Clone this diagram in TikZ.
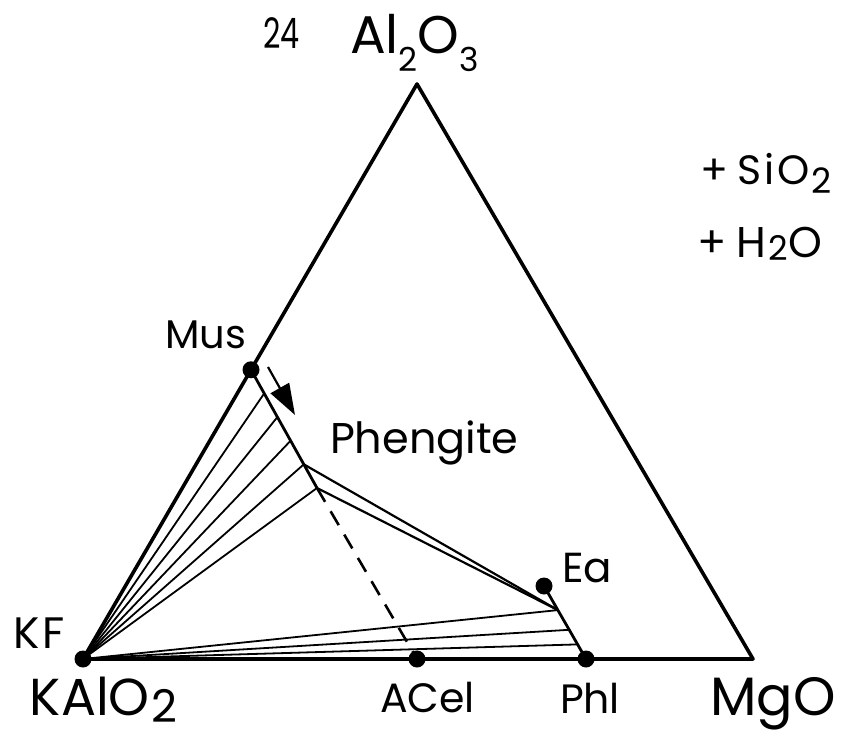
\documentclass[tikz,border=0pt]{standalone}
\usepackage{fontspec}
\setmainfont{Poppins}
\usetikzlibrary{calc,arrows.meta}
\newcommand\chemsub[3]{\raisebox{#1}{\fontsize{#2}{#2}\selectfont #3}}
\begin{document}
\begin{tikzpicture}[x=1pt,y=-1pt,
  lbl/.style={anchor=base west,inner sep=0pt,outer sep=0pt},
  dotn/.style={circle,fill=black,inner sep=0pt,minimum size=17pt},
  tri/.style={line width=3.6pt,line join=round},
  solid2/.style={line width=2.8pt},
  tie/.style={line width=1.8pt},
  dbl/.style={line width=2.2pt},
  dsh/.style={line width=2.6pt,dash pattern=on 16pt off 11pt},
  arr/.style={line width=2.2pt,-{Triangle[length=31pt,width=21pt]}}]
\useasboundingbox (0,0) rectangle (847,736);
\fill[white] (0,0) rectangle (847,736);
% main points
\coordinate (top) at (417,84);
\coordinate (kf) at (83,659);
\coordinate (mgo) at (753,659);
\coordinate (mus) at ($(kf)!0.503!(top)$);
\coordinate (p2) at (317,488);
\coordinate (p1) at ($(mus)!0.8!(p2)$);
\coordinate (ea) at (544,586);
\coordinate (phl) at (586,659);
\coordinate (acel) at (417,659);
\coordinate (e1) at ($(ea)!0.33!(phl)$);
% triangle
\draw[tri] (kf) -- (top) -- (mgo) -- cycle;
% phengite solid solution
\draw[solid2] (mus) -- (p2);
\foreach \t in {0.2,0.4,0.6,0.8,1.0}
  \draw[tie] (kf) -- ($(mus)!\t!(p2)$);
% double line to Ea-Phl
\draw[dbl] (p1) -- (e1);
\draw[dbl] (p2) -- (e1);
% Ea - Phl join
\draw[solid2] (ea) -- (phl);
\foreach \t in {0.33,0.6,0.8}
  \draw[tie] (kf) -- ($(ea)!\t!(phl)$);
% dashed line
\draw[dsh] (p2) -- (acel);
% arrow
\coordinate (a0) at (268,367);
\coordinate (a1) at (295,415);
\draw[arr] (a0) -- (a1);
% dots
\node[dotn] (KFd) at (kf) {};
\node[dotn] (Musd) at (mus) {};
\node[dotn] (Ead) at (ea) {};
\node[dotn] (Phld) at (phl) {};
\node[dotn] (ACeld) at (acel) {};
% labels
\node[lbl,font=\fontsize{42}{42}\selectfont] (n24) at (263,48) {\scalebox{0.72}[1]{24}};
\node[lbl,font=\fontsize{53}{53}\selectfont] (al) at (350,53) {Al\chemsub{-18pt}{33}{2}O\chemsub{-18pt}{33}{3}};
\node[lbl,font=\fontsize{41}{41}\selectfont] (sio) at (700,184) {+\hspace{10pt}S\hspace{2pt}i\hspace{3pt}O\hspace{2pt}\chemsub{-9pt}{35}{2}};
\node[lbl,font=\fontsize{43}{43}\selectfont] (hho) at (697,257) {+\hspace{10pt}H\hspace{2pt}\chemsub{-3pt}{34}{2}\hspace{1pt}O};
\node[lbl,font=\fontsize{40}{40}\selectfont] (musl) at (165,348) {Mus};
\node[lbl,font=\fontsize{43}{43}\selectfont] (phen) at (330,453) {Phengite};
\node[lbl,font=\fontsize{42}{42}\selectfont] (eal) at (562,582) {Ea};
\node[lbl,font=\fontsize{44}{44}\selectfont] (kfl) at (13,648) {K\hspace{3pt}F};
\node[lbl,font=\fontsize{52}{52}\selectfont] (kalo) at (30,715) {KAlO\hspace{2pt}\chemsub{-7pt}{45}{2}};
\node[lbl,font=\fontsize{41}{41}\selectfont] (acl) at (380,712) {ACel};
\node[lbl,font=\fontsize{41}{41}\selectfont] (phll) at (560,713) {Phl};
\node[lbl,font=\fontsize{54}{54}\selectfont] (mgl) at (710,715) {MgO};
\end{tikzpicture}
\end{document}
